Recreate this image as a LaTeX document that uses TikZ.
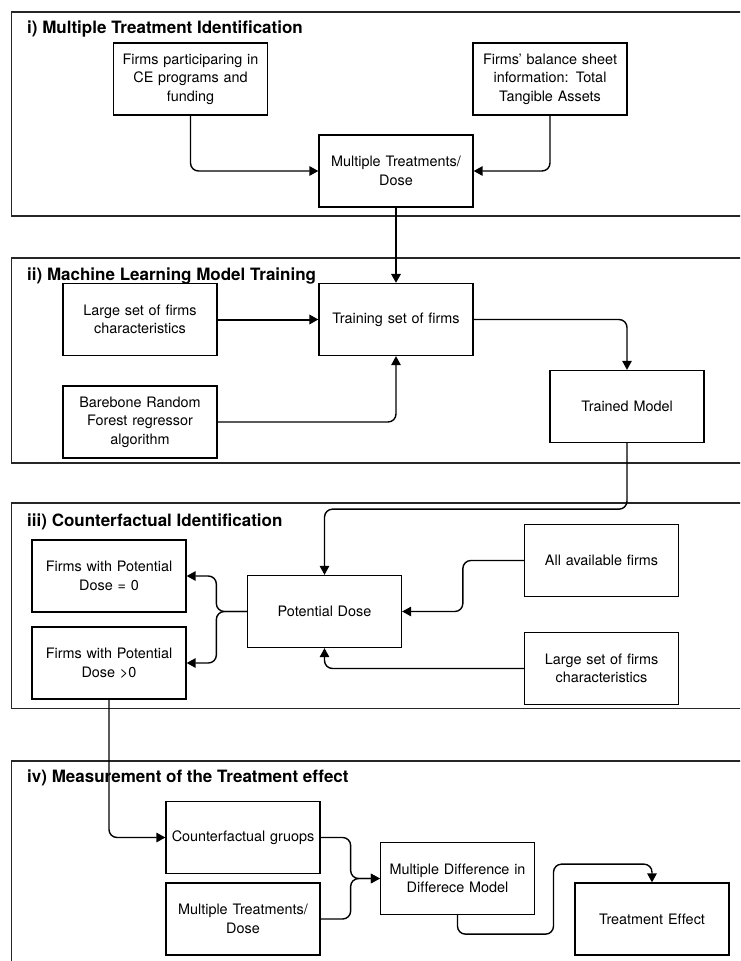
\documentclass[tikz,border=0pt]{standalone}
\usepackage{fontspec}
\setmainfont[Ligatures=NoCommon]{TeX Gyre Heros}
\usetikzlibrary{arrows.meta}
\begin{document}
\begin{tikzpicture}[x=1pt,y=-1pt,
  box/.style={draw, line width=1.3pt, fill=white, minimum width=154pt, minimum height=72pt,
    align=center, text width=148pt, inner sep=2pt, font=\fontsize{14.4}{18.5}\selectfont},
  frame/.style={draw=black!85, line width=1.4pt},
  title/.style={anchor=west, inner sep=0pt, font=\fontsize{17}{20}\selectfont\bfseries},
  conn/.style={line width=1.4pt, rounded corners=8pt, -{Triangle[length=9pt,width=9.5pt]}},
  thickconn/.style={conn, line width=2pt}]
\useasboundingbox (0,0) rectangle (740,961);
\clip (0,0) rectangle (740,961);

% frames
\draw[frame] (11.5,12) rectangle (760,216);
\draw[frame] (11.5,258) rectangle (760,463);
\draw[frame] (11.5,503) rectangle (760,708.5);
\draw[frame] (11.5,761) rectangle (760,990);

% titles
\node[title] (t1) at (27,29.5) {i) Multiple Treatment Identification};
\node[title] (t2) at (27,276) {ii) Machine Learning Model Training};
\node[title] (t3) at (27,522) {iii) Counterfactual Identification};
\node[title] (t4) at (27,778) {iv) Measurement of the Treatment effect};

% section i
\node[box] (ce) at (190.5,79) {Firms participaring in\\CE programs and\\funding};
\node[box] (bal) at (550,79) {Firms’ balance sheet\\information: Total\\Tangible Assets};
\node[box] (mt1) at (396,171) {Multiple Treatments/\\Dose};

% section ii
\node[box] (large1) at (140,319.5) {Large set of firms\\characteristics};
\node[box] (train) at (396,319.5) {Training set of firms};
\node[box] (bare) at (140,422) {Barebone Random\\Forest regressor\\algorithm};
\node[box] (model) at (627,406.5) {Trained Model};

% section iii
\node[box] (pot) at (324.5,611.5) {Potential Dose};
\node[box] (dz) at (109,576) {Firms with Potential\\Dose = 0};
\node[box] (dp) at (109,663) {Firms with Potential\\Dose >0};
\node[box] (all) at (601.5,560.5) {All available firms};
\node[box] (large2) at (601.5,668.5) {Large set of firms\\characteristics};

% section iv
\node[box] (cf) at (243,837.5) {Counterfactual gruops};
\node[box] (mt2) at (243,919) {Multiple Treatments/\\Dose};
\node[box] (mdd) at (457.5,878.5) {Multiple Difference in\\Differece Model};
\node[box] (te) at (652,919) {Treatment Effect};

% connectors
\draw[conn] (ce.south) |- (mt1.west);
\draw[conn] (bal.south) |- (mt1.east);
\draw[thickconn] (mt1.south) -- (train.north);
\draw[thickconn] (large1.east) -- (train.west);
\draw[conn] (bare.east) -| (train.south);
\draw[conn] (train.east) -| (model.north);
\draw[conn] (model.south) -- ++(0,66) -| (pot.north);
\draw[conn] (pot.west) -- ++(-30.5,0) |- (dz.east);
\draw[conn] (pot.west) -- ++(-30.5,0) |- (dp.east);
\draw[conn] (all.west) -- ++(-61,0) |- (pot.east);
\draw[conn] (large2.west) -| (pot.south);
\draw[conn] (dp.south) |- (cf.west);
\draw[conn] (cf.east) -- ++(30,0) |- (mdd.west);
\draw[conn] (mt2.east) -- ++(30,0) |- (mdd.west);
\draw[conn] (mdd.south) -- ++(0,19) -- ++(96,0) -- ++(0,-70) -| (te.north);
\end{tikzpicture}
\end{document}
